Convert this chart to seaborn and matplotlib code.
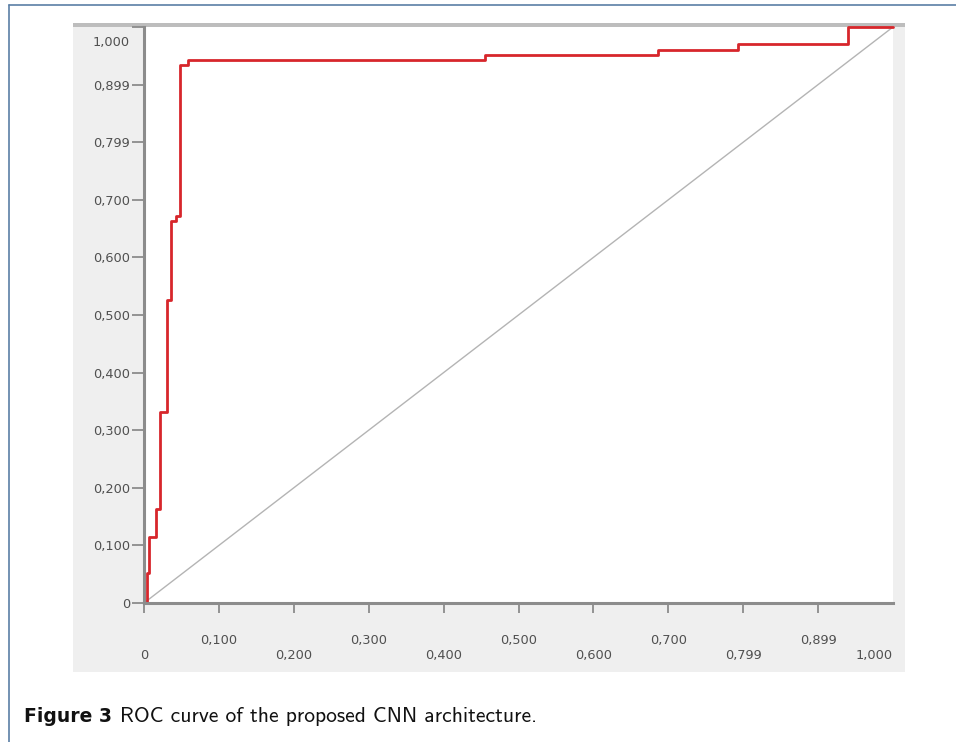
import numpy as np
import matplotlib
matplotlib.use("Agg")
import matplotlib.pyplot as plt
import matplotlib.transforms as mtransforms
from matplotlib.patches import Rectangle
from matplotlib.lines import Line2D
import seaborn as sns

# ROC curve (step points, steps-post)
fpr = [0.0, 0.0036, 0.0067, 0.0156, 0.0214, 0.0303, 0.036, 0.043, 0.0487,
       0.0587, 0.455, 0.686, 0.793, 0.940, 1.0]
tpr = [0.0, 0.052, 0.114, 0.163, 0.331, 0.526, 0.664, 0.672, 0.934,
       0.942, 0.952, 0.960, 0.970, 1.0, 1.0]

diag_x = [0.0, 1.0]
diag_y = [0.0, 1.0]

tick_pos = [0.0, 0.1, 0.2, 0.3, 0.4, 0.5, 0.6, 0.7, 0.8, 0.9, 1.0]
tick_txt = ["0", "0,100", "0,200", "0,300", "0,400", "0,500",
            "0,600", "0,700", "0,799", "0,899", "1,000"]

caption_bold = "Figure 3"
caption_rest = "ROC curve of the proposed CNN architecture."

sns.set_style("white")
plt.rcParams["font.family"] = ["DejaVu Sans"]

W, H = 956, 742
fig = plt.figure(figsize=(W / 100, H / 100), dpi=100)
fig.patch.set_facecolor("white")


def fx(px):
    return px / W


def fy(py):
    return (H - py) / H


# outer frame (top + left edge)
fig.add_artist(Line2D([fx(9), fx(956)], [fy(5), fy(5)], color="#5b7fa6", lw=1.2))
fig.add_artist(Line2D([fx(9), fx(9)], [fy(5), fy(742)], color="#5b7fa6", lw=1.2))

# grey panel behind the chart
fig.patches.append(Rectangle((fx(73), fy(672)), fx(905) - fx(73), fy(23) - fy(672),
                             transform=fig.transFigure, facecolor="#efefef",
                             edgecolor="none", zorder=-10))
fig.patches.append(Rectangle((fx(73), fy(27)), fx(905) - fx(73), fy(23) - fy(27),
                             transform=fig.transFigure, facecolor="#bdbdbd",
                             edgecolor="none", zorder=-9))

ax = fig.add_axes([fx(144), fy(603), fx(893) - fx(144), fy(27) - fy(603)])
ax.set_zorder(1)
ax.set_facecolor("white")

sns.lineplot(x=diag_x, y=diag_y, ax=ax, color="#b4b4b4", lw=1.0)
sns.lineplot(x=fpr, y=tpr, ax=ax, color="#d7262b", lw=2.0,
             drawstyle="steps-post", estimator=None, sort=False, clip_on=False)

ax.set_xlim(0, 1)
ax.set_ylim(0, 1)
for s in ["top", "right"]:
    ax.spines[s].set_visible(False)
for s in ["left", "bottom"]:
    ax.spines[s].set_color("#8c8c8c")
    ax.spines[s].set_linewidth(2.2)

ax.set_xticks(tick_pos)
ax.set_xticklabels([t if i % 2 else "\n" + t for i, t in enumerate(tick_txt)])
ax.set_yticks(tick_pos)
ax.set_yticklabels(tick_txt[:-1] + [""])
ax.tick_params(axis="x", bottom=True, direction="out", length=7, width=1.3,
               color="#8c8c8c", pad=15, labelsize=9.3, labelcolor="#505050")
ax.tick_params(axis="y", left=True, direction="out", length=8.5, width=1.3,
               color="#8c8c8c", pad=1.5, labelsize=9.3, labelcolor="#505050")
ax.xaxis.get_major_ticks()[-1].tick1line.set_visible(False)
ax.get_xticklabels()[-1].set_ha("right")

# top y label sits a bit below its tick
off = mtransforms.offset_copy(ax.get_yaxis_transform(), fig=fig, x=-10.5, y=-11, units="points")
ax.text(0, 1.0, tick_txt[-1], transform=off, ha="right", va="center",
        fontsize=9.3, color="#505050")

ax.set_xlabel("")
ax.set_ylabel("")

t1 = fig.text(fx(24), fy(722), caption_bold, fontsize=13.5, fontweight="bold",
              family=["DejaVu Sans"], color="#111111", va="baseline")
ax.annotate(caption_rest, xy=(1, 0), xycoords=t1, xytext=(6, 0),
            textcoords="offset points", fontsize=15.5, family=["cmss10", "DejaVu Sans"],
            color="#111111", va="bottom", annotation_clip=False)

fig.savefig("out.png", dpi=100)
